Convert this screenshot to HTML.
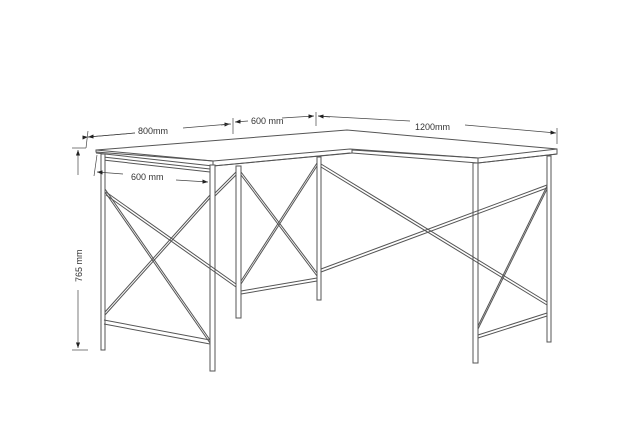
<!DOCTYPE html>
<html><head><style>
html,body{margin:0;padding:0;background:#fff;width:620px;height:438px;overflow:hidden}
svg{display:block}
text{font-family:"Liberation Sans",sans-serif;font-size:9px;fill:#333}
</style></head><body>
<svg width="620" height="438" viewBox="0 0 620 438" xmlns="http://www.w3.org/2000/svg">
<defs><marker id="ar" markerWidth="8" markerHeight="6" refX="8" refY="3" orient="auto"><path d="M0,0 L8,3 L0,6z" fill="#222"/></marker></defs>
<g fill="none" stroke="#555" stroke-width="1">
<!-- table top -->
<polygon points="96,150 347,130 557,149 557,154 478,163 478,158 352,150 352,153 213,166 213,161 96,152" fill="#fff"/>
<polyline points="96,150 213,161 350,149 478,158 557,149"/>
<line x1="96" y1="153" x2="213" y2="166"/>
<line x1="213" y1="166" x2="350" y2="153"/>
<line x1="352" y1="153" x2="478" y2="163"/>
<line x1="478" y1="163" x2="557" y2="154"/>
<!-- apron under left wing -->
<line x1="103" y1="157" x2="210" y2="169"/>
<line x1="103" y1="160" x2="210" y2="172"/>
<!-- legs -->
<rect x="101" y="154" width="4" height="196" fill="#fff"/>
<rect x="210" y="165" width="5" height="206" fill="#fff"/>
<rect x="236" y="166" width="5" height="152" fill="#fff"/>
<rect x="317" y="157" width="4" height="143" fill="#fff"/>
<rect x="473" y="163" width="5" height="200" fill="#fff"/>
<rect x="547" y="156" width="4" height="186" fill="#fff"/>
<!-- left panel braces -->
<line x1="105" y1="189" x2="210" y2="340"/><line x1="105" y1="192" x2="210" y2="343"/>
<line x1="105" y1="312" x2="210" y2="195"/><line x1="105" y1="315" x2="210" y2="198"/>
<line x1="106" y1="192" x2="236" y2="284"/><line x1="106" y1="195" x2="236" y2="287"/>
<line x1="215" y1="193" x2="236" y2="172"/><line x1="215" y1="196" x2="236" y2="175"/>
<line x1="104" y1="320" x2="210" y2="340"/><line x1="104" y1="324" x2="210" y2="344"/>
<!-- middle panel -->
<line x1="241" y1="172" x2="317" y2="273"/><line x1="241" y1="175" x2="317" y2="276"/>
<line x1="317" y1="163" x2="241" y2="281"/><line x1="317" y1="166" x2="241" y2="284"/>
<line x1="241" y1="291" x2="317" y2="278"/><line x1="241" y1="294" x2="317" y2="281"/>
<!-- long braces -->
<line x1="321" y1="164" x2="547" y2="302"/><line x1="321" y1="167" x2="547" y2="305"/>
<line x1="321" y1="269" x2="547" y2="185"/><line x1="321" y1="272" x2="547" y2="188"/>
<!-- right panel -->
<line x1="478" y1="326" x2="547" y2="186"/><line x1="478" y1="329" x2="547" y2="189"/>
<line x1="478" y1="335" x2="547" y2="313"/><line x1="478" y1="338" x2="547" y2="316"/>
</g>
<!-- dimensions -->
<g stroke="#444" stroke-width="0.7" fill="none">
<line x1="88" y1="137" x2="135" y2="133" marker-start="url(#ar)" transform=""/>
<line x1="183" y1="128" x2="230" y2="124" marker-end="url(#ar)"/>
<line x1="88" y1="131" x2="86" y2="148"/>
<line x1="233" y1="118" x2="233" y2="134"/>
<line x1="316" y1="112" x2="316" y2="126"/>
<line x1="221" y1="125" x2="231" y2="124"/>
<line x1="282" y1="118" x2="314" y2="116" marker-end="url(#ar)"/>
<line x1="318" y1="116" x2="410" y2="121"/>
<line x1="465" y1="125" x2="556" y2="133" marker-end="url(#ar)"/>
<line x1="557" y1="128" x2="557" y2="144"/>
<line x1="78" y1="175" x2="78" y2="150" marker-end="url(#ar)"/>
<line x1="78" y1="290" x2="78" y2="348" marker-end="url(#ar)"/>
<line x1="72" y1="148" x2="86" y2="148"/><line x1="72" y1="350" x2="88" y2="350"/>
<line x1="97" y1="155" x2="94" y2="176"/>
<line x1="123" y1="174" x2="97" y2="172" marker-end="url(#ar)"/>
<line x1="176" y1="180" x2="208" y2="182" marker-end="url(#ar)"/>
</g>
<line x1="135" y1="133" x2="88" y2="137" stroke="#444" stroke-width="0.7" marker-end="url(#ar)"/>
<line x1="248" y1="121" x2="235" y2="122" stroke="#444" stroke-width="0.7" marker-end="url(#ar)"/>
<line x1="330" y1="117" x2="318" y2="116" stroke="#444" stroke-width="0.7" marker-end="url(#ar)"/>
<text x="138" y="134">800mm</text>
<text x="251" y="124">600 mm</text>
<text x="415" y="130">1200mm</text>
<text x="131" y="180">600 mm</text>
<text x="82" y="282" transform="rotate(-90 82 282)">765 mm</text>
</svg>
</body></html>
